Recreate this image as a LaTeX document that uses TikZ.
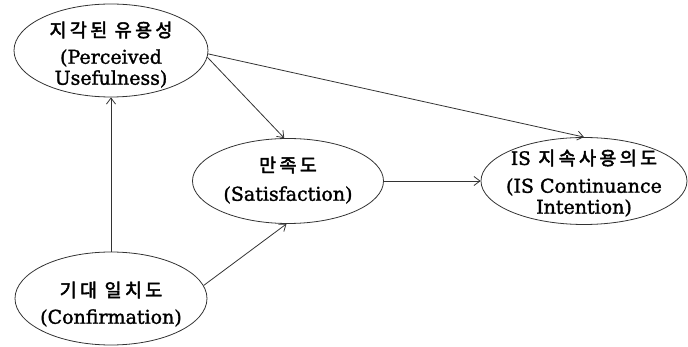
\documentclass[tikz,border=0pt]{standalone}
\usepackage{fontspec}
\setmainfont{DejaVu Serif}[FakeBold=1.6]
\newfontfamily\kr[LetterSpace=18,FakeBold=2.5]{Noto Sans CJK KR}
\usetikzlibrary{shapes.geometric,arrows.meta}
\definecolor{ln}{HTML}{333333}

\begin{document}
\begin{tikzpicture}[x=1pt,y=-1pt,
  construct/.style={draw=ln,line width=0.8pt,ellipse,inner sep=0pt},
  link/.style={draw=ln,line width=0.8pt,-{Straight Barb[length=6pt,width=9pt]}},
  kor/.style={inner sep=0pt,font=\kr\fontsize{18.5}{20}\selectfont},
  eng/.style={inner sep=0pt,align=center,font=\fontsize{19}{21}\selectfont}]
  \useasboundingbox (0,0) rectangle (688,347);
  % constructs
  \node[construct,minimum width=194pt,minimum height=93pt] (pu) at (111,50.5) {};
  \node[construct,minimum width=191pt,minimum height=85pt] (sat) at (288,181) {};
  \node[construct,minimum width=206pt,minimum height=87pt] (isc) at (584,181) {};
  \node[construct,minimum width=192pt,minimum height=93pt] (conf) at (111,298.5) {};
  % labels
  \node[kor] (pu-kr) at (111,30) {지각된 유용성};
  \node[eng] (pu-en) at (111,68.5) {(Perceived\\Usefulness)};
  \node[kor] (sat-kr) at (288,165) {만족도};
  \node[eng] (sat-en) at (288,195) {(Satisfaction)};
  \node[kor] (isc-kr) at (584,158) {{\rmfamily IS} 지속사용의도};
  \node[eng] (isc-en) at (584,197.5) {(IS Continuance\\Intention)};
  \node[kor] (conf-kr) at (111,290) {기대 일치도};
  \node[eng] (conf-en) at (111,318) {(Confirmation)};
  % paths
  \draw[link] (conf.north) -- (pu.south);
  \draw[link] (conf.8) -- (sat.-92);
  \draw[link] (pu.-4) -- (sat.95);
  \draw[link] (pu.-2) -- (isc.north);
  \draw[link] (sat.east) -- (isc.west);
\end{tikzpicture}
\end{document}
